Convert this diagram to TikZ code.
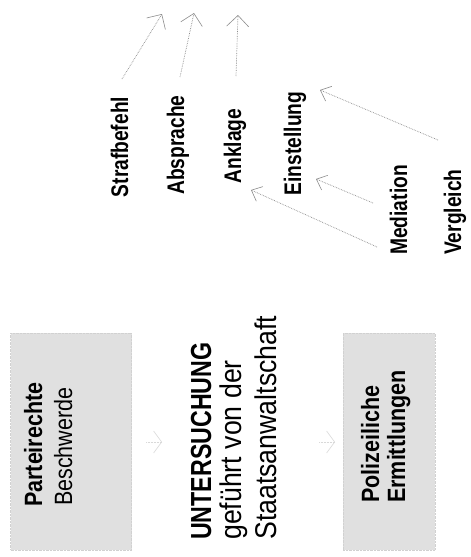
\documentclass[tikz,border=0pt]{standalone}
\usepackage{fontspec}
\setmainfont{Liberation Sans}
\newfontfamily\lblfont{Liberation Sans}[FakeStretch=0.80]
\newfontfamily\bigboldfont{Liberation Sans}[FakeStretch=0.80]
\newfontfamily\bigregfont{Liberation Sans}[FakeStretch=0.89]
\newfontfamily\boxfont{Liberation Sans}[FakeStretch=0.86]
\usetikzlibrary{arrows.meta}
\tikzset{
  lbl/.style={rotate=90, inner sep=0pt, anchor=base, font=\lblfont\bfseries\fontsize{24}{28}\selectfont},
  bigb/.style={rotate=90, inner sep=0pt, anchor=base west, font=\bigboldfont\bfseries\fontsize{29}{33}\selectfont},
  bigr/.style={rotate=90, inner sep=0pt, anchor=base west, font=\bigregfont\fontsize{30}{34}\selectfont},
  boxb/.style={rotate=90, inner sep=0pt, anchor=base west, font=\boxfont\bfseries\fontsize{25}{29}\selectfont},
  boxr/.style={rotate=90, inner sep=0pt, anchor=base west, font=\boxfont\fontsize{25}{29}\selectfont},
  shade box/.style={rectangle, inner sep=0pt, fill=black!12, draw=black!18, densely dotted},
  conn/.style={draw=black!45, densely dotted, line width=0.7pt,
    -{Straight Barb[length=9pt,width=16pt,line width=0.6pt]}},
  bigconn/.style={draw=black!45, densely dotted, line width=0.7pt,
    -{Straight Barb[length=11pt,width=22pt,line width=0.6pt]}},
  chev/.style={draw=black!15, densely dotted, line width=0.5pt,
    -{Straight Barb[length=8pt,width=22pt,line width=0.6pt]}}
}
\begin{document}
\begin{tikzpicture}[x=1pt,y=-1pt]
\useasboundingbox (0,0) rectangle (471,557);
\fill[white] (0,0) rectangle (471,557);

% shaded boxes
\node[shade box, minimum width=121pt, minimum height=217pt] (box1) at (71,441.5) {};
\node[shade box, minimum width=92pt, minimum height=217pt] (box3) at (389,441.5) {};

% box texts
\node[boxb] (par) at (42,507) {Parteirechte};
\node[boxr] (bes) at (72,506) {Beschwerde};
\node[boxb] (pol) at (379,503) {Polizeiliche};
\node[boxb] (erm) at (405,503) {Ermittlungen};

% middle block
\node[bigb] (unt) at (211,540) {UNTERSUCHUNG};
\node[bigr] (gef) at (241,540) {geführt von der};
\node[bigr] (sta) at (276,540) {Staatsanwaltschaft};

% outcome labels
\node[lbl] (straf) at (128,147) {Strafbefehl};
\node[lbl] (absp) at (184,145) {Absprache};
\node[lbl] (ankl) at (241,146) {Anklage};
\node[lbl] (einst) at (301,143.5) {Einstellung};
\node[lbl, anchor=base west] (med) at (407,255) {Mediation};
\node[lbl, anchor=base west] (verg) at (461,255) {Vergleich};

% connector end points
\coordinate (t1) at (122,79);  \coordinate (h1) at (162,14);
\coordinate (t2) at (180,77);  \coordinate (h2) at (194,13);
\coordinate (t3) at (236,76);  \coordinate (h3) at (238,15);
\coordinate (m1) at (377,247); \coordinate (a1) at (251,190);
\coordinate (m2) at (373,203); \coordinate (e2) at (316,179);
\coordinate (v3) at (438,140); \coordinate (e3) at (320,90);
\coordinate (c1a) at (146,442); \coordinate (c1b) at (162,442);
\coordinate (c2a) at (319,442); \coordinate (c2b) at (335,442);

% upward arrows
\draw[bigconn] (t1) -- (h1);
\draw[bigconn] (t2) -- (h2);
\draw[bigconn] (t3) -- (h3);

% arrows from Mediation / Vergleich
\draw[conn] (m1) -- (a1);
\draw[conn] (m2) -- (e2);
\draw[conn] (v3) -- (e3);

% small chevrons between blocks
\draw[chev] (c1a) -- (c1b);
\draw[chev] (c2a) -- (c2b);
\end{tikzpicture}
\end{document}
